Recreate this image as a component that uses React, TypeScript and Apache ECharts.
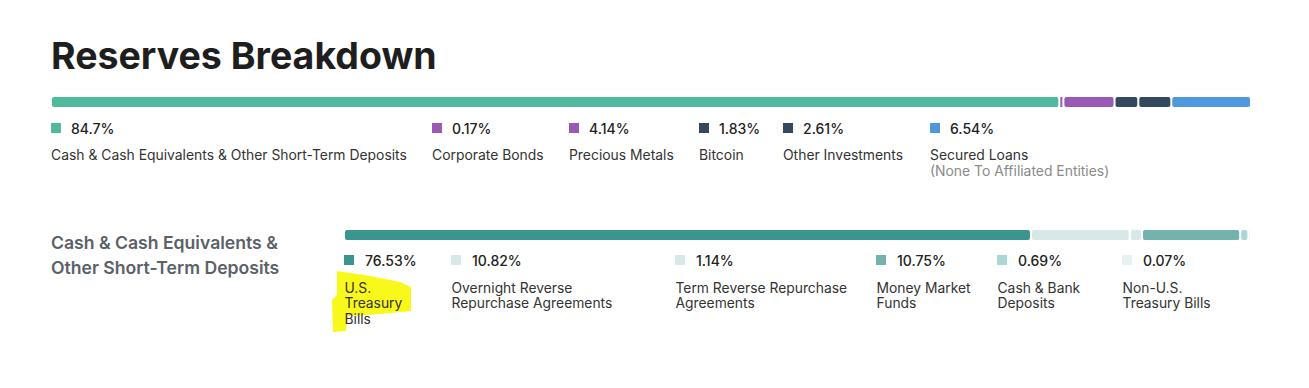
import React, { useEffect, useRef } from "react";
import * as echarts from "echarts";

// ---- data ----
const mainCategories = [
  "Cash & Cash Equivalents & Other Short-Term Deposits",
  "Corporate Bonds",
  "Precious Metals",
  "Bitcoin",
  "Other Investments",
  "Secured Loans",
];
const mainNotes = ["", "", "", "", "", "(None To Affiliated Entities)"];
const mainValues = [84.7, 0.17, 4.14, 1.83, 2.61, 6.54];
const mainColors = ["#4fbb9c", "#9b59b6", "#9b59b6", "#34495e", "#34495e", "#4f98dc"];

const cashTitle = ["Cash & Cash Equivalents &", "Other Short-Term Deposits"];
const cashCategories = [
  "U.S.\nTreasury\nBills",
  "Overnight Reverse\nRepurchase Agreements",
  "Term Reverse Repurchase\nAgreements",
  "Money Market\nFunds",
  "Cash & Bank\nDeposits",
  "Non-U.S.\nTreasury Bills",
];
const cashValues = [76.53, 10.82, 1.14, 10.75, 0.69, 0.07];
const cashColors = ["#3a9490", "#d7e8e8", "#d7e8e8", "#74b2ae", "#acd6d3", "#e6f2f1"];

// ---- layout ----
const mainLegendX = [51, 432, 569, 699, 783, 930];
const cashLegendX = [344, 451, 675, 876, 997, 1122];
const GAP = 2;
const FONT = "Inter, 'Noto Sans', sans-serif";

function makeSeries(values: number[], colors: string[], idx: number) {
  let acc = 0;
  const data = values.map((v, i) => {
    const s = acc;
    acc += v;
    return [s, acc, i];
  });
  const n = values.length;
  return {
    type: "custom",
    xAxisIndex: idx,
    yAxisIndex: idx,
    silent: true,
    data,
    encode: { x: [0, 1] },
    renderItem: (params: any, api: any) => {
      const s = api.value(0);
      const e = api.value(1);
      const i = api.value(2);
      const cs = params.coordSys;
      const p0 = api.coord([s, 0]);
      const p1 = api.coord([e, 0]);
      const k = (cs.width - GAP * (n - 1)) / cs.width;
      const x0 = cs.x + (p0[0] - cs.x) * k + i * GAP;
      const x1 = cs.x + (p1[0] - cs.x) * k + i * GAP;
      const w = Math.max(x1 - x0, 0.6);
      return {
        type: "rect",
        shape: { x: x0, y: cs.y, width: w, height: cs.height, r: w > 4 ? 2 : 0 },
        style: { fill: colors[i] },
      };
    },
  };
}

function sum(a: number[]) {
  return a.reduce((p, c) => p + c, 0);
}

export default function App() {
  const ref = useRef<HTMLDivElement>(null);
  useEffect(() => {
    if (!ref.current) return;
    const chart = echarts.init(ref.current, undefined, { renderer: "svg" });
    const graphics: any[] = [];
    // title
    graphics.push({
      type: "text",
      x: 51,
      y: 55,
      style: { text: "Reserves Breakdown", font: `700 37.5px ${FONT}`, fill: "#1e1e1e", verticalAlign: "middle" },
    });
    // highlight
    graphics.push({
      type: "polygon",
      shape: {
        points: [
          [337, 271], [370, 276], [400, 282], [411, 287], [411, 311], [380, 314],
          [348, 316], [346, 331], [333, 332], [332, 300], [337, 295],
        ],
      },
      style: { fill: "#f8f81a" },
    });
    // main legend
    mainCategories.forEach((c, i) => {
      const x = mainLegendX[i];
      graphics.push({ type: "rect", shape: { x, y: 123, width: 10, height: 10 }, style: { fill: mainColors[i] } });
      graphics.push({
        type: "text", x: x + 20, y: 128,
        style: { text: `${mainValues[i]}%`, font: `500 14px ${FONT}`, fill: "#222", verticalAlign: "middle" },
      });
      graphics.push({
        type: "text", x, y: 155,
        style: { text: c, font: `400 13.9px ${FONT}`, fill: "#333", verticalAlign: "middle" },
      });
      if (mainNotes[i]) {
        graphics.push({
          type: "text", x, y: 171,
          style: { text: mainNotes[i], font: `400 13.9px ${FONT}`, fill: "#8a8a8a", verticalAlign: "middle" },
        });
      }
    });
    // cash section title
    cashTitle.forEach((t, i) => {
      graphics.push({
        type: "text", x: 51, y: 242 + i * 25.5,
        style: { text: t, font: `600 17.6px ${FONT}`, fill: "#5a6169", verticalAlign: "middle" },
      });
    });
    // cash legend
    cashCategories.forEach((c, i) => {
      const x = cashLegendX[i];
      graphics.push({ type: "rect", shape: { x, y: 255, width: 10, height: 10 }, style: { fill: cashColors[i] } });
      graphics.push({
        type: "text", x: x + 21, y: 260.5,
        style: { text: `${cashValues[i]}%`, font: `500 14px ${FONT}`, fill: "#222", verticalAlign: "middle" },
      });
      graphics.push({
        type: "text", x: x + 0.5, y: 279.8,
        style: { text: c, font: `400 13.85px ${FONT}`, fill: "#333", verticalAlign: "top", lineHeight: 15.7 },
      });
    });

    chart.setOption({
      animation: false,
      grid: [
        { left: 52, top: 97, width: 1198, height: 10 },
        { left: 345, top: 230, width: 905, height: 10 },
      ],
      xAxis: [
        { type: "value", gridIndex: 0, min: 0, max: sum(mainValues), show: false },
        { type: "value", gridIndex: 1, min: 0, max: sum(cashValues), show: false },
      ],
      yAxis: [
        { type: "category", gridIndex: 0, data: ["main"], show: false },
        { type: "category", gridIndex: 1, data: ["cash"], show: false },
      ],
      series: [makeSeries(mainValues, mainColors, 0), makeSeries(cashValues, cashColors, 1)],
      graphic: graphics,
    });
    return () => chart.dispose();
  }, []);
  return (
    <div
      ref={ref}
      style={{ position: "fixed", left: 0, top: 0, width: 1309, height: 388, background: "#fff" }}
    />
  );
}
